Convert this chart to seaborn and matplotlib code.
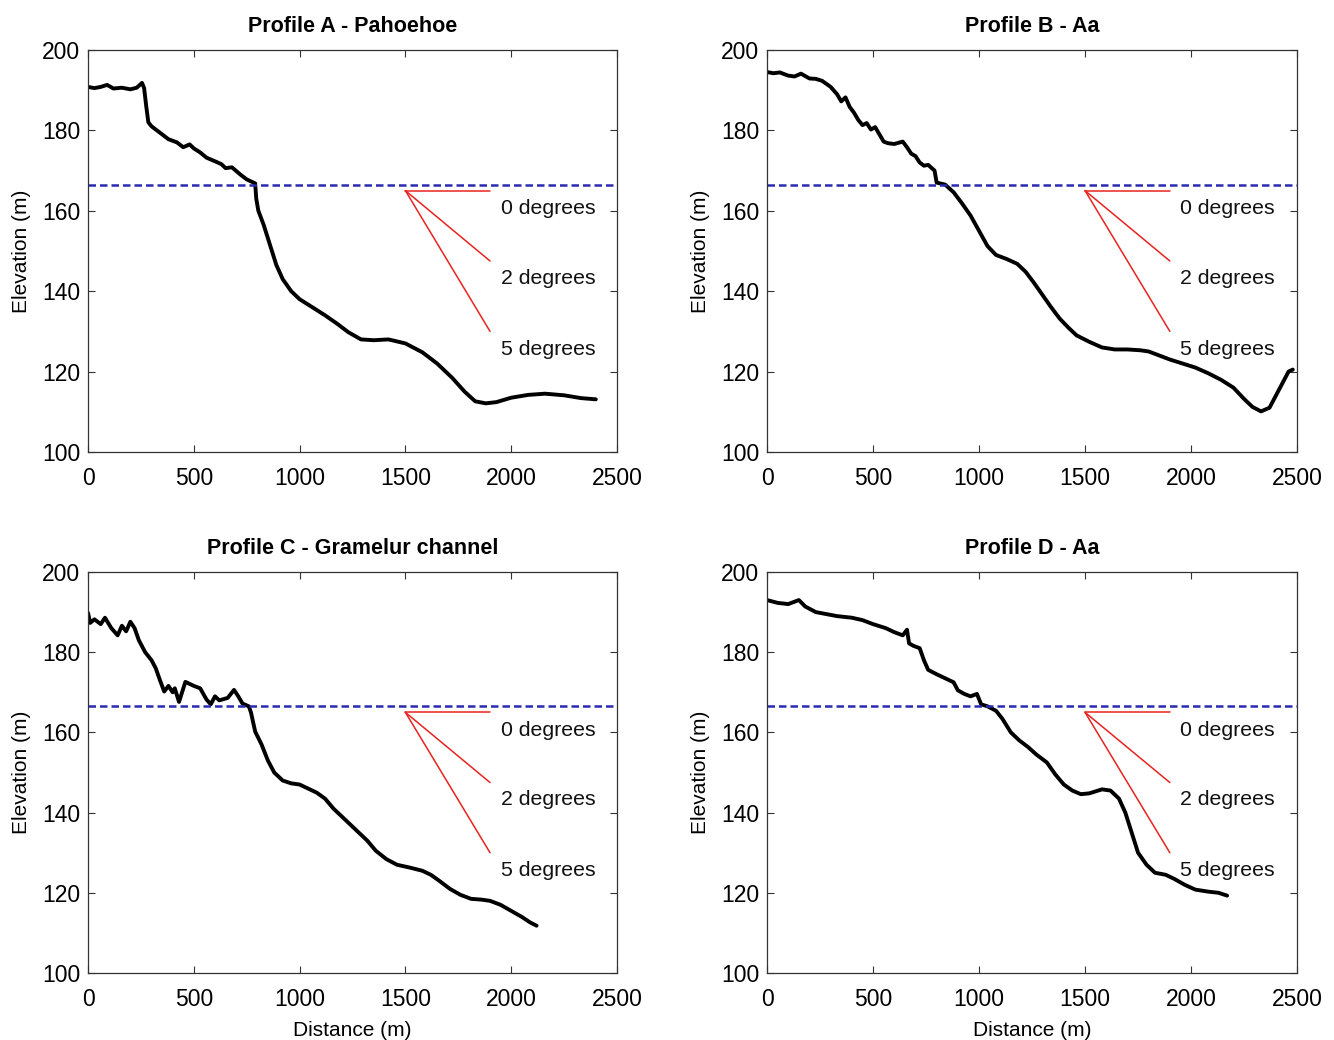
import matplotlib
matplotlib.use("Agg")
import matplotlib.pyplot as plt
import seaborn as sns
import pandas as pd

# ---------------- data ----------------
titles = ["Profile A - Pahoehoe", "Profile B - Aa",
          "Profile C - Gramelur channel", "Profile D - Aa"]

a_dist = [0, 30, 60, 90, 120, 160, 200, 230, 255, 265, 275, 285, 300, 320, 350, 380, 420, 450, 480,
          500, 530, 560, 600, 630, 650, 680, 720, 750, 790, 795, 805, 830, 860, 890, 920, 960,
          1000, 1060, 1120, 1180, 1230, 1290, 1350, 1420, 1500, 1580, 1650, 1720, 1780,
          1830, 1880, 1930, 2000, 2080, 2160, 2250, 2330, 2400]
a_elev = [190.8, 190.5, 190.8, 191.3, 190.4, 190.6, 190.2, 190.6, 191.8, 190.5, 186, 182, 181, 180.2,
          179, 177.8, 177, 175.8, 176.5, 175.5, 174.5, 173.2, 172.3, 171.6, 170.6, 170.8, 169,
          167.8, 166.8, 163, 160, 156.5, 151.5, 146.5, 143, 140, 138, 136, 134, 131.8, 129.8,
          128, 127.8, 128, 127, 124.8, 122, 118.5, 115, 112.6, 112.1, 112.4, 113.5, 114.2,
          114.5, 114.1, 113.4, 113.1]

b_dist = [0, 30, 60, 100, 130, 160, 200, 230, 260, 300, 330, 350, 370, 390, 410, 430, 450, 470,
          490, 510, 530, 550, 570, 600, 640, 660, 680, 700, 720, 740, 760, 790, 800, 840, 880,
          920, 960, 1000, 1040, 1080, 1130, 1180, 1220, 1260, 1300, 1340, 1380, 1420, 1460,
          1520, 1580, 1640, 1700, 1760, 1800, 1850, 1900, 1960, 2020, 2080, 2140, 2200, 2250,
          2290, 2330, 2370, 2400, 2430, 2460, 2480]
b_elev = [194.5, 194.2, 194.4, 193.6, 193.4, 194.1, 192.9, 192.8, 192.3, 190.8, 189, 187.2,
          188.2, 185.8, 184.4, 182.6, 181.3, 181.8, 180.2, 180.8, 179, 177.2, 176.8, 176.6,
          177.2, 175.8, 174.2, 173.6, 172, 171.2, 171.4, 170, 167, 166.5, 164.6, 161.8, 158.8,
          155, 151.2, 149, 148, 146.8, 144.8, 142, 139, 136, 133.2, 131, 129, 127.4, 126,
          125.5, 125.5, 125.3, 125, 124, 123, 122, 121, 119.6, 118, 116, 113.2, 111.2, 110.1,
          111, 114, 117, 120, 120.5]

c_dist = [0, 10, 30, 60, 80, 110, 140, 160, 180, 200, 220, 240, 270, 300, 320, 340, 360, 380,
          400, 410, 430, 460, 500, 530, 560, 580, 600, 620, 660, 690, 710, 730, 760, 770, 790,
          820, 850, 880, 920, 960, 1000, 1040, 1080, 1120, 1160, 1200, 1240, 1280, 1320, 1360,
          1410, 1460, 1520, 1580, 1620, 1660, 1710, 1760, 1810, 1860, 1900, 1950, 2000, 2050,
          2090, 2120]
c_elev = [189.8, 187.3, 188.2, 187, 188.6, 186, 184.2, 186.6, 185.2, 187.6, 186, 183, 180, 178,
          176, 173, 170.2, 171.6, 170, 171, 167.6, 172.6, 171.6, 171, 168.2, 167, 169, 168,
          168.6, 170.6, 169, 167.2, 166.5, 165, 160.2, 157, 153, 150, 148, 147.3, 147, 146,
          145, 143.5, 141, 139, 137, 135, 133, 130.5, 128.4, 127, 126.3, 125.5, 124.5, 123,
          121, 119.5, 118.5, 118.3, 118, 117, 115.5, 114, 112.6, 111.8]

d_dist = [0, 50, 100, 150, 180, 230, 280, 330, 400, 450, 500, 560, 600, 640, 660, 670, 690, 720,
          740, 760, 800, 840, 880, 900, 930, 960, 990, 1010, 1040, 1080, 1110, 1150, 1190,
          1230, 1270, 1320, 1360, 1400, 1440, 1480, 1520, 1580, 1620, 1660, 1690, 1720, 1750,
          1790, 1830, 1880, 1920, 1970, 2020, 2080, 2130, 2170]
d_elev = [193, 192.3, 192, 193, 191.4, 190, 189.5, 189, 188.6, 188, 187, 186, 185, 184.2, 185.6,
          182.2, 181.6, 181, 178, 175.6, 174.5, 173.5, 172.5, 170.5, 169.6, 169, 169.6, 167,
          166.5, 165.4, 163.4, 160, 158, 156.4, 154.5, 152.5, 149.5, 147, 145.5, 144.6, 144.8,
          145.8, 145.5, 143.5, 140, 135, 130, 127, 125, 124.5, 123.5, 122, 120.8, 120.3, 120,
          119.3]

profiles = [(a_dist, a_elev), (b_dist, b_elev), (c_dist, c_elev), (d_dist, d_elev)]

ref_level = 166.5
slope_origin = (1500, 165)
slope_end_x = 1900
slope_end_y = [165, 147.5, 130]
slope_labels = ["0 degrees", "2 degrees", "5 degrees"]
label_y = [160.5, 143.2, 125.6]
label_x = 1950

# ---------------- style ----------------
sns.set_style("ticks")
plt.rcParams["font.family"] = ["Liberation Sans", "DejaVu Sans"]
plt.rcParams["xtick.direction"] = "in"
plt.rcParams["ytick.direction"] = "in"
plt.rcParams["axes.edgecolor"] = "#333333"
plt.rcParams["axes.linewidth"] = 0.9
plt.rcParams["text.color"] = "black"
plt.rcParams["axes.labelcolor"] = "black"
plt.rcParams["xtick.labelcolor"] = "black"
plt.rcParams["ytick.labelcolor"] = "black"

fig = plt.figure(figsize=(13.34, 10.4), dpi=100)
positions = [
    [0.066, 0.5654, 0.3965, 0.3866],
    [0.575, 0.5654, 0.3973, 0.3866],
    [0.066, 0.0644, 0.3965, 0.3856],
    [0.575, 0.0644, 0.3973, 0.3856],
]

for i, (pos, title, (xd, yd)) in enumerate(zip(positions, titles, profiles)):
    ax = fig.add_axes(pos)
    df = pd.DataFrame({"Distance": xd, "Elevation": yd})
    sns.lineplot(data=df, x="Distance", y="Elevation", ax=ax, color="black",
                 linewidth=2.8, sort=False, estimator=None)
    ax.axhline(ref_level, color="#2b2bb0", linestyle=(0, (3, 1.6)), linewidth=1.8)
    for ey in slope_end_y:
        ax.plot([slope_origin[0], slope_end_x], [slope_origin[1], ey], color="#e8231f",
                linewidth=1.1)
    for lab, ly in zip(slope_labels, label_y):
        ax.text(label_x, ly, lab, fontsize=15.3, ha="left", va="center", color="#111111")
    ax.set_xlim(0, 2500)
    ax.set_ylim(100, 200)
    ax.set_xticks([0, 500, 1000, 1500, 2000, 2500])
    ax.set_yticks([100, 120, 140, 160, 180, 200])
    ax.tick_params(top=True, right=True, labelsize=16.5, length=5, width=0.8,
                   color="#333333")
    ax.tick_params(axis="x", pad=11)
    ax.tick_params(axis="y", pad=5.5)
    ax.set_title(title, fontsize=15.5, fontweight="bold", pad=13)
    ax.set_ylabel("Elevation (m)", fontsize=15, labelpad=8)
    if i >= 2:
        ax.set_xlabel("Distance (m)", fontsize=15, labelpad=7)
    else:
        ax.set_xlabel("")
    for s in ax.spines.values():
        s.set_visible(True)

fig.savefig("out.png", dpi=100, facecolor="white")
